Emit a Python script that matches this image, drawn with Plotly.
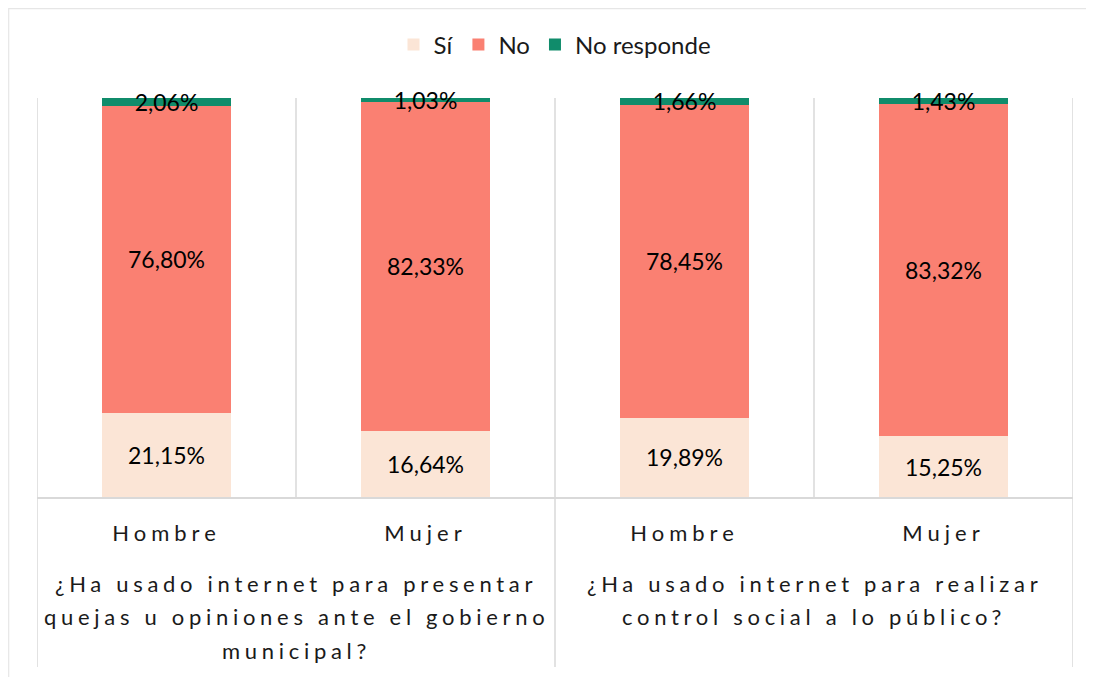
import plotly.graph_objects as go

# ---- data ----
group_lines = [["¿Ha usado internet para presentar", "quejas u opiniones ante el gobierno", "municipal?"],
               ["¿Ha usado internet para realizar", "control social a lo público?"]]
sexes = ["Hombre", "Mujer", "Hombre", "Mujer"]
si = [21.15, 16.64, 19.89, 15.25]
no = [76.80, 82.33, 78.45, 83.32]
no_responde = [2.06, 1.03, 1.66, 1.43]
series_names = ["Sí", "No", "No responde"]
colors = ["#FBE5D6", "#FA8072", "#108C6B"]

FONT = "Lato"
LS_TICK = "letter-spacing:5px"
LS_GROUP = "letter-spacing:4.7px"
xpos = list(range(len(sexes)))
ymax = max(a + b + c for a, b, c in zip(si, no, no_responde))

fig = go.Figure()
for name, vals, col in zip(series_names, [si, no, no_responde], colors):
    fig.add_trace(go.Bar(
        x=xpos, y=vals, name=name, marker=dict(color=col, line=dict(width=0)),
        width=0.5, texttemplate="%{y:.2f}%", textposition="inside",
        insidetextanchor="middle", textangle=0, constraintext="none",
        textfont=dict(color="black", size=23, family=FONT),
        cliponaxis=False, hoverinfo="skip",
    ))

grid = "#D9D9D9"
# page offset of 8px (body margin); plot area in figure px: x 29..1065, y 90..489
OFF = 8
W, HGT = 1086, 669
L, R, T, B = 29, 1065, 90, 489
H = float(B - T)
def py(page_y):
    return (B - (page_y - OFF)) / H
def px(page_x):
    return ((page_x - OFF) - L) / float(R - L)

shapes = []
for b in [0.5, 2.5]:
    shapes.append(dict(type="line", xref="x", yref="paper", x0=b, x1=b, y0=0, y1=1,
                       line=dict(color=grid, width=1.5), layer="below"))
for b in [-0.5, 1.5, 3.5]:
    shapes.append(dict(type="line", xref="x", yref="paper", x0=b, x1=b, y0=py(667), y1=1,
                       line=dict(color=grid, width=1.5), layer="below"))
# outer chart border
shapes.append(dict(type="rect", xref="paper", yref="paper",
                   x0=px(8.7), x1=px(1120), y0=py(720), y1=py(8.7),
                   line=dict(color="#E6E6E6", width=1.2), fillcolor="rgba(0,0,0,0)", layer="below"))

annotations = []
line_y = [583, 616, 650]
centers = [0.5, 2.5]
for gi, lines in enumerate(group_lines):
    for li, txt in enumerate(lines):
        annotations.append(dict(
            xref="x", yref="paper", x=centers[gi], y=py(line_y[li]),
            text=f'<span style="{LS_GROUP}">{txt}</span>', showarrow=False,
            xanchor="center", yanchor="middle",
            font=dict(family=FONT, size=22, color="#1A1A1A")))

fig.update_layout(
    width=W, height=HGT,
    margin=dict(l=L, r=W - R, t=T, b=HGT - B),
    paper_bgcolor="white", plot_bgcolor="white",
    barmode="stack", separators=",.",
    font=dict(family=FONT, size=22, color="#1A1A1A"),
    showlegend=True,
    legend=dict(orientation="h", x=0.5, xanchor="center", y=py(45), yanchor="middle",
                font=dict(family=FONT, size=24, color="#1A1A1A"), traceorder="normal",
                itemsizing="constant"),
    xaxis=dict(range=[-0.5, 3.5], tickmode="array", tickvals=xpos,
               ticktext=[f'<span style="{LS_TICK}">{s}</span>' for s in sexes],
               showgrid=False, zeroline=False, showline=True, linecolor=grid, linewidth=1.5,
               ticks="outside", ticklen=16, tickcolor="rgba(0,0,0,0)",
               tickfont=dict(family=FONT, size=22, color="#1A1A1A"), fixedrange=True),
    yaxis=dict(range=[0, ymax], visible=False, fixedrange=True),
    shapes=shapes, annotations=annotations,
)

fig.write_html("out.html")
